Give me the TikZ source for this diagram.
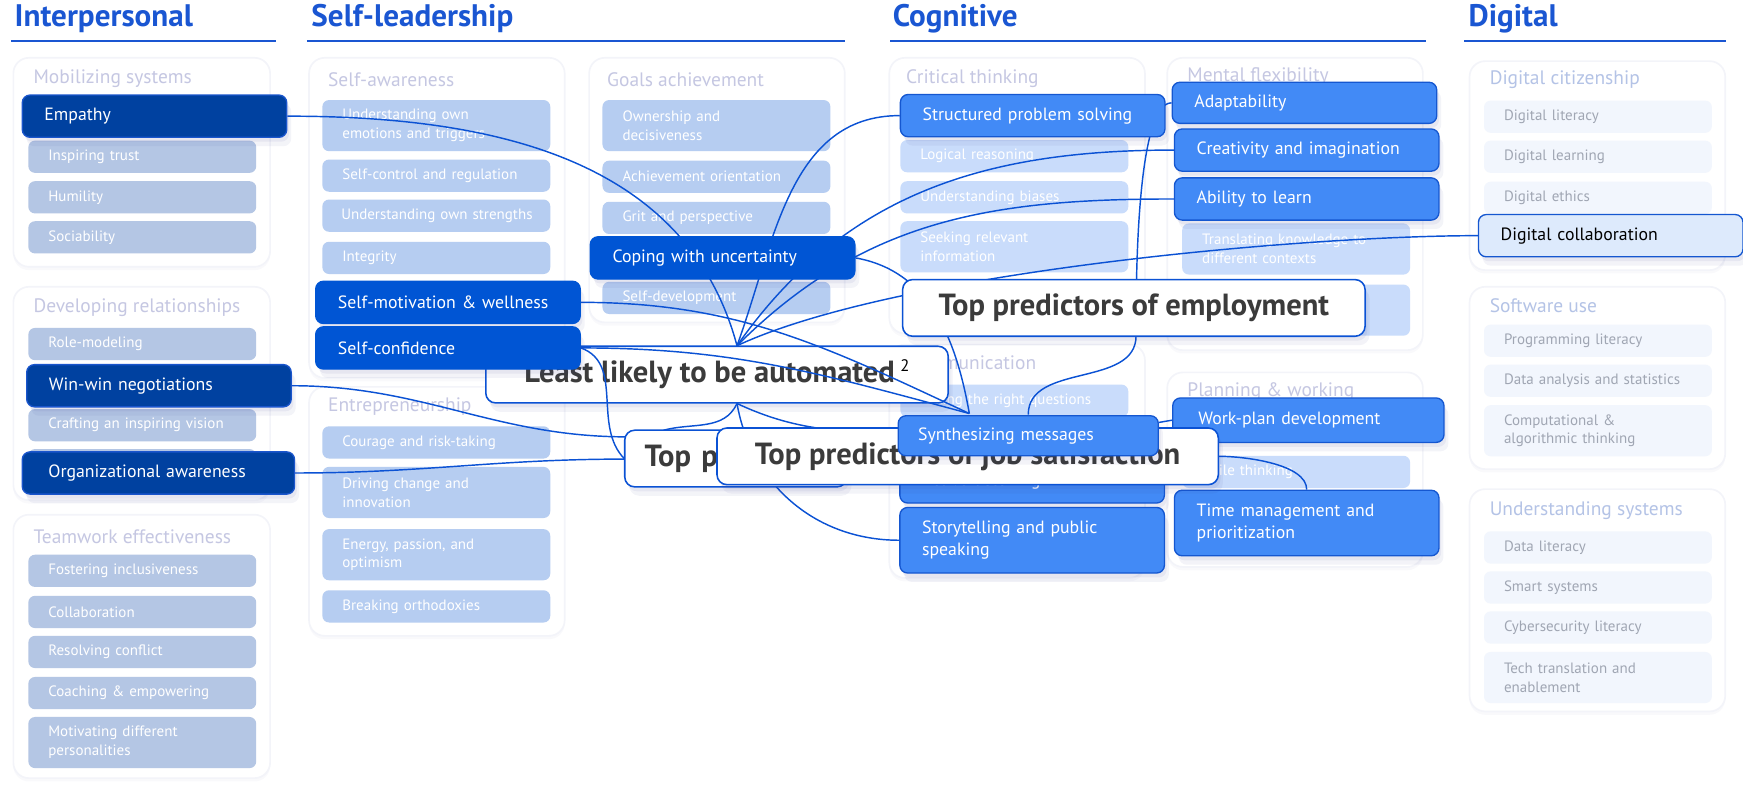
\documentclass[tikz,border=0pt]{standalone}
\usepackage{fontspec}
\setmainfont{PT Sans}
\usetikzlibrary{backgrounds,shapes,shadows}
\pgfdeclarelayer{panellayer}
\pgfdeclarelayer{edgelayer}
\pgfdeclarelayer{nodelayer}
\pgfsetlayers{panellayer,edgelayer,nodelayer,main}
\definecolor{headblue}{HTML}{1A56D2}
\definecolor{navy}{HTML}{0041A0}
\definecolor{navyline}{HTML}{1A55CC}
\definecolor{royal}{HTML}{0055D4}
\definecolor{bright}{HTML}{428AF6}
\definecolor{brightline}{HTML}{1557D0}
\definecolor{pick}{HTML}{DDEAFC}
\definecolor{edgeblue}{HTML}{0B52D4}
\definecolor{paleA}{HTML}{B4C6E4}
\definecolor{paleB}{HTML}{B6CDF1}
\definecolor{paleC}{HTML}{C9DCFB}
\definecolor{paleD}{HTML}{F2F6FD}
\definecolor{lavender}{HTML}{C5C7E2}
\definecolor{skyline}{HTML}{B4C3E6}
\definecolor{dimgray}{HTML}{A0A6B3}
\definecolor{labelgray}{HTML}{3B3B3B}
\definecolor{panelline}{HTML}{F3F4F9}
\definecolor{shade}{HTML}{3A3F8F}
\tikzset{font=\fontsize{13.5}{17}\selectfont}
\tikzstyle{none}=[inner sep=0pt]
\tikzstyle{head}=[anchor=base west, inner sep=0pt, text=headblue, font=\bfseries\fontsize{28}{30}\selectfont]
\tikzstyle{rule}=[draw=headblue, line width=2pt]
\tikzstyle{soft}=[drop shadow={shadow xshift=2pt, shadow yshift=-4pt, opacity=0.07, fill=shade}, drop shadow={shadow xshift=4pt, shadow yshift=-8pt, opacity=0.06, fill=shade}]
\tikzstyle{panel}=[draw=panelline, line width=1.5pt, fill=white, rounded corners=14pt, drop shadow={shadow xshift=0pt, shadow yshift=-3pt, opacity=0.03, fill=shade}]
\tikzstyle{ptitle}=[anchor=west, inner sep=0pt, text=lavender, font=\fontsize{17.5}{19}\selectfont]
\tikzstyle{item}=[rounded corners=6pt, minimum width=205pt, minimum height=29pt, text width=169pt, inner xsep=18pt, inner ysep=0pt, align=left, text=white]
\tikzstyle{two}=[minimum height=46pt]
\tikzstyle{itemA}=[style=item, fill=paleA]
\tikzstyle{itemB}=[style=item, fill=paleB]
\tikzstyle{itemC}=[style=item, fill=paleC]
\tikzstyle{itemD}=[style=item, fill=paleD, text=dimgray]
\tikzstyle{skill}=[style=soft, rounded corners=7pt, line width=1.2pt, minimum width=238pt, minimum height=38pt, text width=198pt, inner xsep=20pt, inner ysep=0pt, align=left, text=white, font=\fontsize{16}{20}\selectfont]
\tikzstyle{skillA}=[style=skill, fill=navy, draw=navyline]
\tikzstyle{skillB}=[style=skill, fill=royal, draw=royal]
\tikzstyle{skillC}=[style=skill, fill=bright, draw=brightline]
\tikzstyle{skillD}=[style=skill, fill=pick, draw=brightline, text=black]
\tikzstyle{topic}=[style=soft, draw=edgeblue, line width=1.4pt, fill=white, rounded corners=9pt, minimum height=51pt, inner sep=0pt, text=labelgray, font=\bfseries\fontsize{27.5}{30}\selectfont]
\tikzstyle{wire}=[draw=edgeblue, line width=1.3pt]

\begin{document}
\begin{tikzpicture}[x=1pt,y=1pt]
	\useasboundingbox (0,0) rectangle (1568,-706);
	\begin{pgfonlayer}{panellayer}
		\node [style=panel, minimum width=231pt, minimum height=188pt] (0) at (127.5, -146) {};
		\node [style=panel, minimum width=231pt, minimum height=192pt] (1) at (127.5, -354) {};
		\node [style=panel, minimum width=231pt, minimum height=237pt] (2) at (127.5, -581.5) {};
		\node [style=panel, minimum width=230pt, minimum height=288pt] (3) at (393, -196) {};
		\node [style=panel, minimum width=230pt, minimum height=224pt] (4) at (393, -460) {};
		\node [style=panel, minimum width=230pt, minimum height=238pt] (5) at (645, -171) {};
		\node [style=panel, minimum width=230pt, minimum height=248pt] (6) at (915, -176) {};
		\node [style=panel, minimum width=230pt, minimum height=263pt] (7) at (1165, -183.5) {};
		\node [style=panel, minimum width=230pt, minimum height=210pt] (8) at (915, -415) {};
		\node [style=panel, minimum width=230pt, minimum height=175pt] (9) at (1165, -422.5) {};
		\node [style=panel, minimum width=230pt, minimum height=188pt] (10) at (1437, -149) {};
		\node [style=panel, minimum width=230pt, minimum height=164pt] (11) at (1437, -340) {};
		\node [style=panel, minimum width=230pt, minimum height=200pt] (12) at (1437, -540) {};
		\node [style=ptitle] (13) at (30, -71) {Mobilizing systems};
		\node [style=ptitle] (14) at (30, -277) {Developing relationships};
		\node [style=ptitle] (15) at (30, -483) {Teamwork effectiveness};
		\node [style=ptitle] (16) at (295, -72) {Self-awareness};
		\node [style=ptitle] (17) at (295, -366) {Entrepreneurship};
		\node [style=ptitle] (18) at (546, -72) {Goals achievement};
		\node [style=ptitle] (19) at (815, -71) {Critical thinking};
		\node [style=ptitle] (20) at (1068, -69) {Mental flexibility};
		\node [style=ptitle] (21) at (815, -326) {Communication};
		\node [style=ptitle] (22) at (1068, -352) {Planning \& working};
		\node [style=ptitle, text=skyline] (23) at (1340, -72) {Digital citizenship};
		\node [style=ptitle, text=skyline] (24) at (1340, -275) {Software use};
		\node [style=ptitle, text=skyline] (25) at (1340, -459) {Understanding systems};
		\node [style=itemA] (26) at (128, -141) {Inspiring trust};
		\node [style=itemA] (27) at (128, -177.5) {Humility};
		\node [style=itemA] (28) at (128, -213.5) {Sociability};
		\node [style=itemA] (29) at (128, -309.5) {Role-modeling};
		\node [style=itemA] (30) at (128, -382.5) {Crafting an inspiring vision};
		\node [style=itemA] (31) at (128, -418.5) {};
		\node [style=itemA] (32) at (128, -513.5) {Fostering inclusiveness};
		\node [style=itemA] (33) at (128, -550.5) {Collaboration};
		\node [style=itemA] (34) at (128, -586.5) {Resolving conflict};
		\node [style=itemA] (35) at (128, -623.5) {Coaching \& empowering};
		\node [style=itemA, style=two] (36) at (128, -668) {Motivating different\\personalities};
		\node [style=itemB, style=two] (37) at (392.5, -113) {Understanding own\\emotions and triggers};
		\node [style=itemB] (38) at (392.5, -158) {Self-control and regulation};
		\node [style=itemB, text width=181pt, inner xsep=12pt] (39) at (392.5, -194) {\hspace{5pt}Understanding own strengths};
		\node [style=itemB] (40) at (392.5, -232) {Integrity};
		\node [style=itemB] (41) at (392.5, -398) {Courage and risk-taking};
		\node [style=itemB, style=two] (42) at (392.5, -443) {Driving change and\\innovation};
		\node [style=itemB, style=two] (43) at (392.5, -499) {Energy, passion, and\\optimism};
		\node [style=itemB] (44) at (392.5, -545.5) {Breaking orthodoxies};
		\node [style=itemB, style=two] (45) at (644.5, -113) {Ownership and\\decisiveness};
		\node [style=itemB] (46) at (644.5, -159) {Achievement orientation};
		\node [style=itemB] (47) at (644.5, -196) {Grit and perspective};
		\node [style=itemB] (48) at (644.5, -268) {Self-development};
		\node [style=itemC] (49) at (912.5, -140.5) {Logical reasoning};
		\node [style=itemC] (50) at (912.5, -177.5) {Understanding biases};
		\node [style=itemC, style=two] (51) at (912.5, -222) {Seeking relevant\\information};
		\node [style=itemC] (52) at (912.5, -360.5) {Asking the right questions};
		\node [style=itemC, style=two] (53) at (1166, -224) {Translating knowledge to\\different contexts};
		\node [style=itemC, style=two] (54) at (1166, -279) {};
		\node [style=itemC] (55) at (1166, -424.5) {Agile thinking};
		\node [style=itemD] (56) at (1437.5, -105) {Digital literacy};
		\node [style=itemD] (57) at (1437.5, -141) {Digital learning};
		\node [style=itemD] (58) at (1437.5, -178) {Digital ethics};
		\node [style=itemD] (59) at (1437.5, -306.5) {Programming literacy};
		\node [style=itemD] (60) at (1437.5, -342.5) {Data analysis and statistics};
		\node [style=itemD, style=two] (61) at (1437.5, -387.5) {Computational \&\\algorithmic thinking};
		\node [style=itemD] (62) at (1437.5, -492.5) {Data literacy};
		\node [style=itemD] (63) at (1437.5, -528.5) {Smart systems};
		\node [style=itemD] (64) at (1437.5, -564.5) {Cybersecurity literacy};
		\node [style=itemD, style=two] (65) at (1437.5, -609.5) {Tech translation and\\enablement};
		\node [style=topic, minimum width=416pt] (66) at (645, -337) {Least likely to be automated\hspace{5pt}\raisebox{10pt}{\mdseries\color{black}\fontsize{15}{15}\selectfont 2}};
	\end{pgfonlayer}
	\begin{pgfonlayer}{nodelayer}
		\node [style=skillA] (67) at (139, -104.5) {Empathy};
		\node [style=skillA] (68) at (143, -347) {Win-win negotiations};
		\node [style=skillA, minimum width=245pt] (69) at (142.5, -425.5) {Organizational awareness};
		\node [style=skillB, minimum width=236pt] (70) at (403, -272) {Self-motivation \& wellness};
		\node [style=skillB, minimum width=236pt] (71) at (403, -313) {Self-confidence};
		\node [style=skillB, minimum width=236pt] (72) at (650, -232) {Coping with uncertainty};
		\node [style=skillC] (73) at (929, -104) {Structured problem solving};
		\node [style=skillC, minimum width=233pt, minimum height=37pt] (74) at (1173.5, -92.5) {Adaptability};
		\node [style=skillC, minimum width=237pt] (75) at (1175.5, -135) {Creativity and imagination};
		\node [style=skillC, minimum width=237pt] (76) at (1175.5, -179) {Ability to learn};
		\node [style=skillC, minimum width=237pt, minimum height=40pt] (77) at (928.5, -432.5) {Active listening};
		\node [style=skillC, minimum width=237pt, minimum height=59pt] (78) at (928.5, -486) {Storytelling and public\\speaking};
		\node [style=skillC, minimum width=244pt, minimum height=40pt] (79) at (1177, -378) {Work-plan development};
		\node [style=skillC, minimum width=237pt, minimum height=59pt] (80) at (1175.5, -470.5) {Time management and\\prioritization};
		\node [style=skillD] (81) at (1449, -212) {Digital collaboration};
		\node [style=topic, minimum width=416pt] (82) at (1020, -277) {Top predictors of employment};
		\node [style=topic, minimum width=200pt, text width=164pt, align=left] (83) at (662, -412.5) {Top p};
		\node [style=topic, minimum width=451pt] (84) at (870.5, -410.5) {Top predictors of job satisfaction};
		\node [style=skillC, minimum width=234pt, minimum height=36pt, inner xsep=18pt] (85) at (925, -392) {Synthesizing messages};
		\node [style=none] (86) at (663, -311) {};
		\node [style=none] (87) at (872, -372) {};
		\node [style=none] (88) at (925, -373) {};
		\node [style=none] (89) at (663, -363) {};
		\node [style=none] (90) at (564, -393) {};
		\node [style=none] (91) at (562, -413) {};
		\node [style=none] (92) at (597, -387) {};
		\node [style=none] (93) at (1022, -302) {};
	\end{pgfonlayer}
	\begin{pgfonlayer}{edgelayer}
		\draw [style=wire] [in=105, out=0] (67.east) to (86.center);
		\draw [style=wire] [in=70, out=180] (73.west) to (86.center);
		\draw [style=wire] [in=55, out=180] (75.west) to (86.center);
		\draw [style=wire] [in=45, out=180] (76.west) to (86.center);
		\draw [style=wire] [in=25, out=180, looseness=0.60] (81.west) to (86.center);
		\draw [style=wire] [in=155, out=0] (70.east) to (87.center);
		\draw [style=wire] [in=165, out=0] (71.east) to (87.center);
		\draw [style=wire] [in=100, out=-10] (72.east) to (87.center);
		\draw [style=wire] [in=90, out=180, looseness=0.40] (74.west) to (93.center);
		\draw [style=wire] [in=90, out=-90] (93.center) to (88.center);
		\draw [style=wire] [in=180, out=0] (68.east) to (90.center);
		\draw [style=wire] [in=180, out=0] (69.east) to (91.center);
		\draw [style=wire] [in=135, out=-20] (71.east) to (91.center);
		\draw [style=wire] [in=15, out=-115] (89.center) to (92.center);
		\draw [style=wire] [in=180, out=-80] (89.center) to (78.west);
		\draw [style=wire] [in=175, out=-25] (89.center) to (85.west);
		\draw [style=wire] ([yshift=12pt]85.east) to (79.west);
		\draw [style=wire] [in=0, out=90, looseness=0.70] (80.north) to (84.east);
	\end{pgfonlayer}
	\node [style=head] (94) at (13, -24) {Interpersonal};
	\node [style=head] (95) at (280, -24) {Self-leadership};
	\node [style=head] (96) at (803, -24) {Cognitive};
	\node [style=head] (97) at (1321, -24) {Digital};
	\draw [style=rule] (10, -37) -- (248, -37);
	\draw [style=rule] (276, -37) -- (760, -37);
	\draw [style=rule] (801, -37) -- (1283, -37);
	\draw [style=rule] (1317, -37) -- (1553, -37);
\end{tikzpicture}
\end{document}
